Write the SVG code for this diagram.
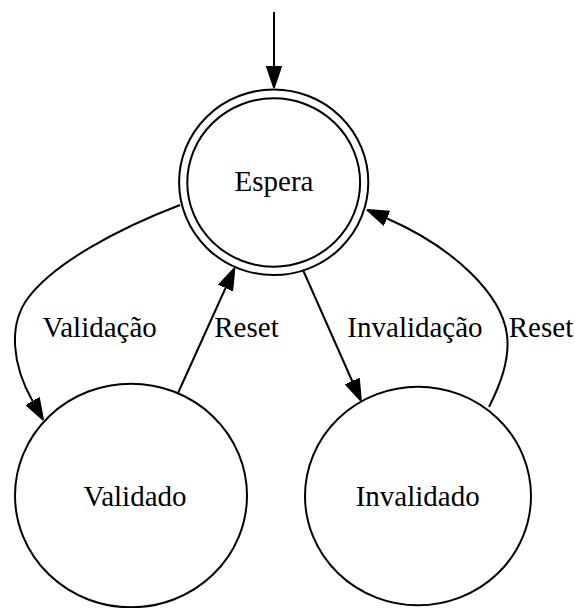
<svg xmlns="http://www.w3.org/2000/svg" width="575" height="608" viewBox="0 0 575 608">
<style>
.node { fill: none; stroke: #000; stroke-width: 2; }
.edge { fill: none; stroke: #000; stroke-width: 2; }
text { font-family: "Liberation Serif", "Times New Roman", serif; font-size: 29px; fill: #000; text-anchor: middle; }
</style>
<defs>
<marker id="arrow" viewBox="0 0 22 16" refX="1" refY="8" markerWidth="22" markerHeight="16" markerUnits="userSpaceOnUse" orient="auto">
<path d="M0,0.5 L22,8 L0,15.5 z" fill="#000" stroke="#000" stroke-width="1.5"/>
</marker>
</defs>
<rect width="575" height="608" fill="#fff"/>
<g id="connectors">
<path class="edge" d="M274,12 L274,67" marker-end="url(#arrow)"/>
<path class="edge" d="M180,205 C120,228 55,262 28,298 C8,325 12,365 33,402" marker-end="url(#arrow)"/>
<path class="edge" d="M178,393 L226,287" marker-end="url(#arrow)"/>
<path class="edge" d="M303,270 L352.6,382" marker-end="url(#arrow)"/>
<path class="edge" d="M489,407 C500,385 510,360 507,335 C502,295 455,248 386,218" marker-end="url(#arrow)"/>
<text x="99.7" y="337">Validação</text>
<text x="246.5" y="337">Reset</text>
<text x="415" y="337">Invalidação</text>
<text x="541" y="337">Reset</text>
</g>
<g id="Espera">
<ellipse class="node" cx="273.7" cy="182.3" rx="94.6" ry="92.8"/>
<ellipse class="node" cx="273.7" cy="182.5" rx="86.4" ry="84.2"/>
<text x="274" y="191">Espera</text>
</g>
<g id="Validado">
<ellipse class="node" cx="131" cy="495.5" rx="116" ry="111.8"/>
<text x="135" y="506">Validado</text>
</g>
<g id="Invalidado">
<ellipse class="node" cx="418" cy="496" rx="113" ry="109.3"/>
<text x="417.7" y="506">Invalidado</text>
</g>
</svg>
